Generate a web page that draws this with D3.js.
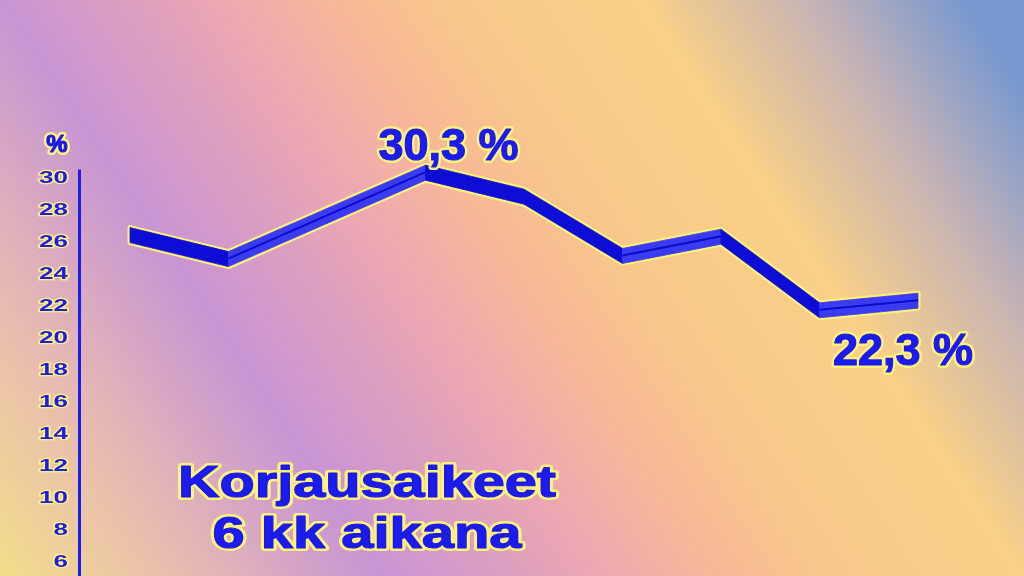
<!DOCTYPE html>
<html lang="fi">
<head>
<meta charset="utf-8">
<title>Korjausaikeet</title>
<script src="https://d3js.org/d3.v7.min.js"></script>
<style>
body { margin: 0; overflow: hidden; }
</style>
</head>
<body>
<script>
// values
var periods = ["1", "2", "3", "4", "5", "6", "7", "8", "9"]
var shares = [26.4, 24.9, 27.6, 30.3, 28.8, 25.1, 26.3, 21.7, 22.3]
var yTicks = [6, 8, 10, 12, 14, 16, 18, 20, 22, 24, 26, 28, 30]
var peakLabel = "30,3 %"
var lastLabel = "22,3 %"
var titleLines = ["Korjausaikeet", "6 kk aikana"]

var w = 1024, h = 576
var blue = "#1a1aee", halo = "#fff27a"
var font = "'Liberation Sans', Arial, sans-serif"

var data = periods.map(function (p, i) { return {period: p, value: shares[i]} })

var svg = d3.select("body").append("svg").attr("width", w).attr("height", h)
var defs = svg.append("defs")

var grad = defs.append("linearGradient").attr("id", "bg")
    .attr("gradientUnits", "userSpaceOnUse")
    .attr("x1", 0).attr("y1", 564).attr("x2", 930).attr("y2", -52)
var stops = [[0, "#f4dc8c"], [0.13, "#e8bcb0"], [0.28, "#c894d4"], [0.45, "#eea8b0"],
    [0.53, "#f8b898"], [0.62, "#f8c88a"], [0.76, "#f8d088"], [0.88, "#c8b4b4"], [1, "#7898d0"]]
stops.forEach(function (s) {
    grad.append("stop").attr("offset", s[0]).attr("stop-color", s[1])
})

defs.append("filter").attr("id", "soft")
    .append("feGaussianBlur").attr("stdDeviation", 0.7)

svg.append("rect").attr("width", w).attr("height", h).attr("fill", "url(#bg)")

var xScale = d3.scalePoint().domain(periods).range([130, 918])
var yScale = d3.scaleLinear().domain([5, 30.5]).range([577, 169])

var g = svg.append("g").attr("filter", "url(#soft)")

// y axis
var axis = g.append("g").attr("transform", "translate(79,0)")
    .call(d3.axisLeft(yScale).tickValues(yTicks).tickSize(0).tickSizeOuter(0).tickPadding(11))
axis.select(".domain").attr("stroke", blue).attr("stroke-width", 3)
axis.selectAll("text")
    .attr("fill", blue)
    .attr("font-family", font).attr("font-weight", "bold").attr("font-size", 17)
    .attr("stroke", halo).attr("stroke-width", 2.5).attr("paint-order", "stroke")
    .attr("textLength", function (d) { return String(d).length * 14.5 })
    .attr("lengthAdjust", "spacingAndGlyphs")

// ribbon line
var band = d3.area()
    .x(function (d) { return xScale(d.period) })
    .y0(function (d) { return yScale(d.value) - 7 })
    .y1(function (d) { return yScale(d.value) + 8 })

g.append("path").datum(data).attr("d", band)
    .attr("fill", halo).attr("stroke", halo).attr("stroke-width", 5).attr("stroke-linejoin", "round")

var segs = d3.pairs(data)
g.selectAll(".seg").data(segs).join("path").attr("class", "seg")
    .attr("d", function (d) { return band(d) })
    .attr("fill", function (d) { return d[1].value > d[0].value ? "#3a3af6" : "#0c0cd6" })
    .attr("stroke", function (d) { return d[1].value > d[0].value ? "#3a3af6" : "#0c0cd6" })
    .attr("stroke-width", 0.8)

var mid = d3.line()
    .x(function (d) { return xScale(d.period) })
    .y(function (d) { return yScale(d.value) })
g.selectAll(".mid").data(segs.filter(function (d) { return d[1].value > d[0].value }))
    .join("path").attr("class", "mid")
    .attr("d", mid).attr("fill", "none").attr("stroke", "#0a0ac8").attr("stroke-width", 2)

// bold text with a yellow glow behind it
function label(text, x, y, size, len) {
    [0, 1].forEach(function (layer) {
        var t = g.append("text").attr("x", x).attr("y", y).attr("text-anchor", "middle")
            .attr("font-family", font).attr("font-weight", "bold").attr("font-size", size)
            .attr("stroke-linejoin", "round")
            .text(text)
        if (len) t.attr("textLength", len).attr("lengthAdjust", "spacingAndGlyphs")
        if (layer == 0) t.attr("fill", halo).attr("stroke", halo).attr("stroke-width", 6)
        else t.attr("fill", blue).attr("stroke", blue).attr("stroke-width", 1.2)
    })
}

label("%", 57, 152, 24)

var peak = data[3], last = data[data.length - 1]
label(peakLabel, xScale(peak.period) + 23, yScale(peak.value) - 12, 45)
label(lastLabel, xScale(last.period) - 15, yScale(last.value) + 65, 45)

// title
var titleLen = [378, 309]
titleLines.forEach(function (t, i) {
    label(t, 367, 497 + i * 51, 44, titleLen[i])
})
</script>
</body>
</html>
